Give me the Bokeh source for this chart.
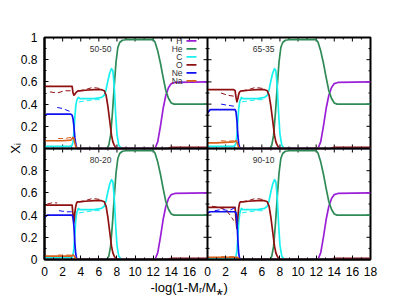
from bokeh.plotting import figure
from bokeh.models import Range1d, LinearAxis, FixedTicker, Span, Label, Title
from bokeh.embed import file_html
from bokeh.resources import INLINE

# ---------------- data ----------------
PANEL_NAMES = ["50-50", "65-35", "80-20", "90-10"]
SPECIES = ["H", "He", "C", "O", "Ne", "Na"]
COLORS = ["#9a1fd6", "#2e8b57", "#19f0f0", "#8f1010", "#1010f0", "#d9601a"]

# outer layers (same in every panel)
H_X = [0, 12.2, 12.5, 12.8, 13.1, 13.4, 13.7, 14.0, 14.4, 18]
H_Y = [0, 0, 0.06, 0.20, 0.36, 0.48, 0.55, 0.585, 0.595, 0.60]
HE_X = [0, 6.9, 7.1, 7.3, 7.5, 7.7, 7.9, 8.1, 8.3, 8.6, 9.0, 12.0, 12.2, 12.5,
        12.8, 13.1, 13.4, 13.7, 14.0, 14.3, 18]
HE_Y = [0, 0, 0.03, 0.12, 0.32, 0.56, 0.78, 0.91, 0.955, 0.975, 0.98, 0.98, 0.96,
        0.88, 0.77, 0.64, 0.52, 0.45, 0.41, 0.40, 0.40]
ENV_X = [3.9, 4.5, 5.5, 6.3, 6.6, 6.8, 7.0, 7.2, 7.4, 7.55, 7.7, 7.85, 8.0, 8.2,
         8.5, 13.5, 14.0, 18]
O_ENV = [0.52, 0.525, 0.53, 0.53, 0.52, 0.48, 0.38, 0.25, 0.12, 0.06, 0.03, 0.01,
         0.0, 0.0, 0.0, 0.0, 0.01, 0.01]
C_ENV = [0.45, 0.45, 0.45, 0.46, 0.48, 0.53, 0.61, 0.68, 0.72, 0.70, 0.56, 0.32,
         0.13, 0.03, 0.0, 0.0, 0.0, 0.0]
TAIL_X = [3.9, 18]
TAIL_ZERO = [0.0, 0.0]

# cores
CORE_X = [0, 0.3, 1.0, 2.0, 2.9, 3.05, 3.15, 3.25, 3.35, 3.45, 3.55, 3.65, 3.75]
O_5050 = [0.56, 0.56, 0.56, 0.56, 0.56, 0.56, 0.50, 0.48, 0.49, 0.50, 0.51, 0.515, 0.52]
NE_5050 = [0.30, 0.31, 0.31, 0.31, 0.31, 0.30, 0.27, 0.20, 0.10, 0.04, 0.01, 0.0, 0.0]
NA_5050 = [0.07, 0.07, 0.07, 0.07, 0.075, 0.09, 0.10, 0.09, 0.05, 0.02, 0.005, 0.0, 0.0]
C_5050 = [0.02, 0.02, 0.02, 0.02, 0.02, 0.03, 0.06, 0.15, 0.28, 0.38, 0.43, 0.45, 0.46]

O_6535 = [0.53, 0.53, 0.53, 0.53, 0.53, 0.52, 0.46, 0.42, 0.45, 0.49, 0.51, 0.515, 0.52]
NE_6535 = [0.32, 0.35, 0.35, 0.35, 0.35, 0.35, 0.33, 0.25, 0.12, 0.04, 0.01, 0.0, 0.0]
NA_6535 = [0.05, 0.05, 0.05, 0.055, 0.06, 0.065, 0.07, 0.06, 0.03, 0.01, 0.0, 0.0, 0.0]
C_6535 = [0.02, 0.02, 0.02, 0.02, 0.02, 0.03, 0.05, 0.12, 0.25, 0.36, 0.42, 0.44, 0.46]

O_8020 = [0.49, 0.49, 0.49, 0.49, 0.49, 0.49, 0.40, 0.33, 0.42, 0.48, 0.51, 0.52, 0.52]
NE_8020 = [0.38, 0.40, 0.40, 0.40, 0.40, 0.40, 0.38, 0.30, 0.15, 0.05, 0.01, 0.0, 0.0]
NA_8020 = [0.03, 0.03, 0.03, 0.03, 0.03, 0.035, 0.04, 0.035, 0.02, 0.01, 0.0, 0.0, 0.0]
C_8020 = [0.02, 0.02, 0.02, 0.02, 0.02, 0.02, 0.04, 0.10, 0.22, 0.35, 0.42, 0.44, 0.46]

O_9010 = [0.47, 0.47, 0.47, 0.47, 0.47, 0.47, 0.36, 0.28, 0.38, 0.47, 0.51, 0.52, 0.52]
NE_9010 = [0.42, 0.43, 0.43, 0.43, 0.43, 0.43, 0.42, 0.35, 0.18, 0.05, 0.01, 0.0, 0.0]
NA_9010 = [0.02, 0.02, 0.02, 0.02, 0.02, 0.02, 0.02, 0.02, 0.015, 0.01, 0.0, 0.0, 0.0]
C_9010 = [0.01, 0.01, 0.01, 0.01, 0.01, 0.01, 0.03, 0.08, 0.20, 0.33, 0.41, 0.44, 0.46]

# dashed (second model) visible pieces
DO_ENV_X = [3.8, 4.5, 5.3, 6.2]
DO_ENV_Y = [0.52, 0.53, 0.55, 0.54]
DC_ENV_X = [3.8, 4.6, 5.5, 6.4]
DC_ENV_Y = [0.42, 0.43, 0.44, 0.44]

DO_5050_X = [0.6, 1.4, 2.2, 3.0]
DO_5050_Y = [0.51, 0.50, 0.52, 0.52]
DNE_5050_X = [1.4, 2.0, 2.6, 3.0]
DNE_5050_Y = [0.37, 0.36, 0.34, 0.33]
DNA_5050_X = [1.5, 2.2, 3.0]
DNA_5050_Y = [0.09, 0.09, 0.10]

DO_6535_X = [1.5, 2.2, 3.0]
DO_6535_Y = [0.50, 0.48, 0.47]
DNE_6535_X = [1.5, 2.2, 3.0]
DNE_6535_Y = [0.40, 0.39, 0.38]
DNA_6535_X = [1.5, 2.2, 3.0]
DNA_6535_Y = [0.07, 0.065, 0.07]

DO_8020_X = [0.3, 0.8, 1.4]
DO_8020_Y = [0.50, 0.51, 0.51]
DNE_8020_X = [1.6, 2.4, 3.0]
DNE_8020_Y = [0.44, 0.43, 0.43]
DNA_8020_X = [1.5, 3.0]
DNA_8020_Y = [0.04, 0.04]

DO_9010_X = [0.5, 1.2, 2.0, 2.5, 2.9]
DO_9010_Y = [0.48, 0.47, 0.45, 0.40, 0.35]
DNE_9010_X = [0.8, 1.6, 2.4, 3.1]
DNE_9010_Y = [0.44, 0.45, 0.44, 0.47]
DNA_9010_X = [1.5, 3.0]
DNA_9010_Y = [0.025, 0.025]

X_TICKS = [0, 2, 4, 6, 8, 10, 12, 14, 16, 18]
X_MINOR = [1, 3, 5, 7, 9, 11, 13, 15, 17]
Y_TICKS = [0.0, 0.2, 0.4, 0.6, 0.8, 1.0]
Y_MINOR = [0.1, 0.3, 0.5, 0.7, 0.9]

# ---------------- build panel tables ----------------
cores = [
    (O_5050, NE_5050, NA_5050, C_5050),
    (O_6535, NE_6535, NA_6535, C_6535),
    (O_8020, NE_8020, NA_8020, C_8020),
    (O_9010, NE_9010, NA_9010, C_9010),
]
dashed = [
    [(DO_5050_X, DO_5050_Y, 3), (DNE_5050_X, DNE_5050_Y, 4), (DNA_5050_X, DNA_5050_Y, 5)],
    [(DO_6535_X, DO_6535_Y, 3), (DNE_6535_X, DNE_6535_Y, 4), (DNA_6535_X, DNA_6535_Y, 5)],
    [(DO_8020_X, DO_8020_Y, 3), (DNE_8020_X, DNE_8020_Y, 4), (DNA_8020_X, DNA_8020_Y, 5)],
    [(DO_9010_X, DO_9010_Y, 3), (DNE_9010_X, DNE_9010_Y, 4), (DNA_9010_X, DNA_9010_Y, 5)],
]
# (x range name, y range name) per panel: TL, TR, BL, BR
RANGE_NAMES = [("default", "yt"), ("xr", "yt"), ("default", "default"), ("xr", "default")]

FONT = "Liberation Sans"
FW, FH = 326, 222

p = figure(frame_width=FW, frame_height=FH,
           x_range=Range1d(0, 36), y_range=Range1d(0, 2),
           x_axis_location=None, y_axis_location=None,
           output_backend="svg", toolbar_location=None,
           min_border_left=44, min_border_right=25,
           min_border_top=37, min_border_bottom=38)
p.extra_x_ranges = {"xr": Range1d(-18, 18)}
p.extra_y_ranges = {"yt": Range1d(-1, 1)}
p.grid.grid_line_color = None
p.outline_line_color = "black"
p.outline_line_width = 2
p.background_fill_color = "white"
p.border_fill_color = "white"

# ---- axes ----
def fmt(t):
    return "%g" % t

x_pos, x_over = [], {}
for t in X_TICKS:
    x_pos.append(float(t)); x_over[float(t)] = fmt(t)
for t in X_TICKS:
    x_pos.append(float(t + 18)); x_over[float(t + 18)] = fmt(t)
x_pos = sorted(set(x_pos))
x_minor = [float(t) for t in X_MINOR] + [float(t + 18) for t in X_MINOR]

y_pos, y_over = [], {}
for t in Y_TICKS:
    y_pos.append(round(t, 6)); y_over[round(t, 6)] = fmt(t)
for t in Y_TICKS:
    y_pos.append(round(t + 1, 6)); y_over[round(t + 1, 6)] = fmt(t)
y_pos = sorted(set(y_pos))
y_minor = [round(t, 6) for t in Y_MINOR] + [round(t + 1, 6) for t in Y_MINOR]

def style(ax):
    ax.major_tick_in = 4
    ax.major_tick_out = 0
    ax.minor_tick_in = 2
    ax.minor_tick_out = 0
    ax.major_tick_line_color = "black"
    ax.minor_tick_line_color = "black"
    ax.axis_line_color = "black"
    ax.axis_line_width = 2
    ax.major_label_text_font = FONT
    ax.major_label_text_font_size = "12px"
    ax.major_label_text_color = "black"

bottom = LinearAxis(ticker=FixedTicker(ticks=x_pos, minor_ticks=x_minor),
                    major_label_overrides=x_over)
style(bottom)
bottom.major_label_standoff = 7
p.add_layout(bottom, "below")

left = LinearAxis(ticker=FixedTicker(ticks=y_pos, minor_ticks=y_minor),
                  major_label_overrides=y_over)
style(left)
left.major_label_standoff = 7
left.axis_label = "Xᵢ"
left.axis_label_text_font = FONT
left.axis_label_text_font_size = "13px"
left.axis_label_text_font_style = "normal"
left.axis_label_text_color = "black"
left.axis_label_standoff = -5
p.add_layout(left, "left")

# x axis title, placed below the tick labels, left part of the figure
p.add_layout(Title(text="-log(1-Mᵣ/M⁎)", align="left", offset=106,
                   text_font=FONT, text_font_size="13px", text_font_style="normal",
                   text_color="black", standoff=0, vertical_align="middle"), "below")

# internal panel borders
p.add_layout(Span(location=18, dimension="height", line_color="black", line_width=2))
p.add_layout(Span(location=1, dimension="width", line_color="black", line_width=2))

# ticks on internal borders (both sides) and on the top / right borders (inward)
px_x = FW / 36.0
px_y = FH / 2.0
ty = list(y_pos) + y_minor
tdx = [4 / px_x] * len(y_pos) + [2 / px_x] * len(y_minor)
tx = list(x_pos) + x_minor
tdy = [4 / px_y] * len(x_pos) + [2 / px_y] * len(x_minor)
p.segment(x0=[18 - d for d in tdx], y0=ty, x1=[18 + d for d in tdx], y1=ty,
          line_color="black", line_width=1)
p.segment(x0=[36 - d for d in tdx], y0=ty, x1=[36] * len(ty), y1=ty,
          line_color="black", line_width=1)
p.segment(x0=tx, y0=[1 - d for d in tdy], x1=tx, y1=[1 + d for d in tdy],
          line_color="black", line_width=1)
p.segment(x0=tx, y0=[2 - d for d in tdy], x1=tx, y1=[2] * len(tx),
          line_color="black", line_width=1)

# ---- curves ----
for i, name in enumerate(PANEL_NAMES):
    xn, yn = RANGE_NAMES[i]
    o_core, ne_core, na_core, c_core = cores[i]
    series = [
        (H_X, H_Y),
        (HE_X, HE_Y),
        (CORE_X + ENV_X, c_core + C_ENV),
        (CORE_X + ENV_X, o_core + O_ENV),
        (CORE_X + TAIL_X, ne_core + TAIL_ZERO),
        (CORE_X + TAIL_X, na_core + TAIL_ZERO),
    ]
    for k, (xs, ys) in enumerate(series):
        p.line(xs, ys, line_color=COLORS[k], line_width=1.7, line_join="round",
               x_range_name=xn, y_range_name=yn)
    for xs, ys, k in [(DC_ENV_X, DC_ENV_Y, 2), (DO_ENV_X, DO_ENV_Y, 3)] + dashed[i]:
        p.line(xs, ys, line_color=COLORS[k], line_width=1.0, line_dash="5 3",
               x_range_name=xn, y_range_name=yn)
    p.add_layout(Label(x=6.2, y=0.9, text=name, x_range_name=xn, y_range_name=yn,
                       text_align="center", text_baseline="middle",
                       text_font=FONT, text_font_size="8.5px", text_color="#333333"))

# ---- legend (top-left panel) ----
LEG_TEXT_X = 15.24
LEG_LINE_X0, LEG_LINE_X1 = 15.68, 16.78
LEG_TOP, LEG_STEP = 0.97, 0.072
leg_y = [LEG_TOP - j * LEG_STEP for j in range(len(SPECIES))]
for j, sp in enumerate(SPECIES):
    p.add_layout(Label(x=LEG_TEXT_X, y=leg_y[j], text=sp, y_range_name="yt",
                       text_align="right", text_baseline="middle",
                       text_font=FONT, text_font_size="8.5px", text_color="#333333"))
p.segment(x0=[LEG_LINE_X0] * len(SPECIES), y0=leg_y, x1=[LEG_LINE_X1] * len(SPECIES),
          y1=leg_y, line_color=COLORS, line_width=1.7, y_range_name="yt")

open("out.html", "w").write(file_html(p, INLINE))
